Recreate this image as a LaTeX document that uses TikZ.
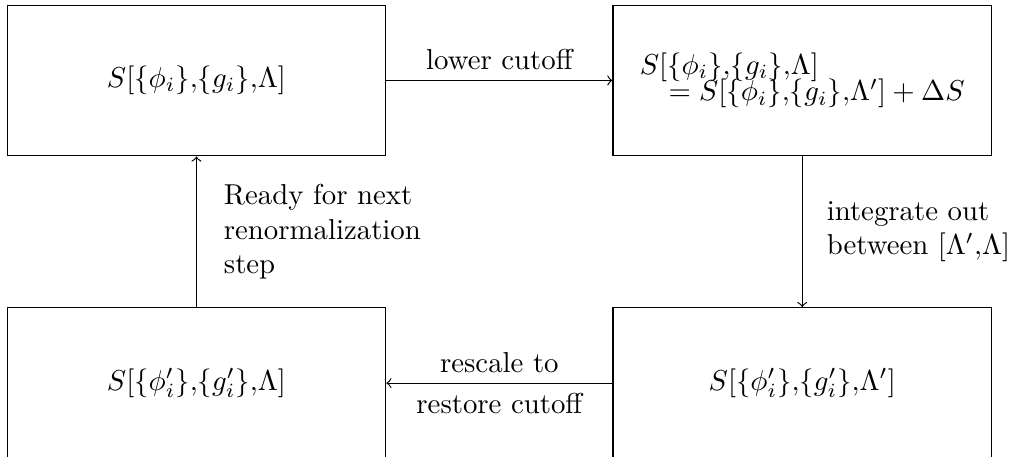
\documentclass[tikz,border=0pt]{standalone}
\usepackage{amsmath,amssymb}
\usetikzlibrary{positioning}
\begin{document}
\begin{tikzpicture}[>=to,every node/.style={font=\normalsize},
  stage/.style={draw,minimum width=4.62cm,minimum height=1.84cm}]
  \useasboundingbox (0,0) rectangle (12.34,-5.577);
  \node[stage] (full) at (2.398,-.982) {$S[\{\phi_i\}{,}\{g_i\}{,}\Lambda]$};
  \node[stage,right=2.76cm of full,align=left] (split)
    {$S[\{\phi_i\}{,}\{g_i\}{,}\Lambda]$\\[-2.8pt]\quad$=S[\{\phi_i\}{,}\{g_i\}{,}\Lambda']+\Delta S$};
  \node[stage,below=1.84cm of split] (coarse) {$S[\{\phi'_i\}{,}\{g'_i\}{,}\Lambda']$};
  \node[stage,below=1.84cm of full] (rescaled) {$S[\{\phi'_i\}{,}\{g'_i\}{,}\Lambda]$};
  \draw[->] (full.east) -- node[above] (lower) {lower cutoff} (split.west);
  \draw[->] (split.south) -- node[right=5pt,align=left] (integrate)
    {integrate out\\between $[\Lambda'{,}\Lambda]$} (coarse.north);
  \draw[->] (coarse.west) -- node[above] (rescale) {rescale to}
    node[below] (restore) {restore cutoff} (rescaled.east);
  \draw[->] (rescaled.north) -- node[right=6pt,align=left] (ready)
    {Ready for next\\renormalization\\step} (full.south);
\end{tikzpicture}
\end{document}
